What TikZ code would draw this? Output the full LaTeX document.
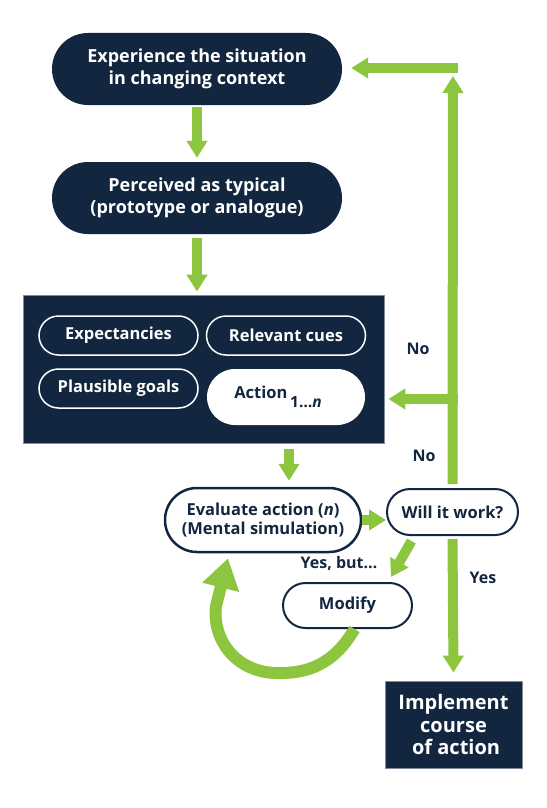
\documentclass[tikz,border=0pt]{standalone}
\usepackage{fontspec}
\setmainfont{Open Sans}
\usetikzlibrary{arrows.meta,shapes.misc,calc}
\definecolor{navy}{HTML}{13263F}
\definecolor{leaf}{HTML}{8CC63F}
\definecolor{edgegray}{HTML}{7F8B99}
\begin{document}
\begin{tikzpicture}[x=1pt,y=-1pt,
   font=\bfseries,
   darkpill/.style={rounded rectangle,fill=navy,text=white,inner sep=0pt,align=center,
      font=\bfseries\fontsize{18}{21.5}\selectfont},
   linepill/.style={rounded rectangle,draw=white,line width=1.5pt,fill=navy,text=white,
      inner sep=0pt,font=\bfseries\fontsize{16.5}{19}\selectfont},
   whitepill/.style={rounded rectangle,draw=navy,line width=2pt,fill=white,text=navy,
      inner sep=0pt,align=center,font=\bfseries\fontsize{16.5}{19.5}\selectfont},
   darkbox/.style={rectangle,fill=navy,draw=edgegray,line width=0.8pt,inner sep=0pt},
   tag/.style={text=navy,font=\bfseries\fontsize{16}{19}\selectfont},
   garrow/.style={draw=leaf,line width=10pt,-{Triangle[width=20pt,length=17pt]}},
   loop arrow/.style={draw=leaf,line width=12pt,-{Triangle[width=36pt,length=30pt]}}]

\useasboundingbox (0,0) rectangle (546,808);

\node[darkpill,minimum width=290pt,minimum height=72pt] (exp) at (197,69)
   {Experience the situation\\in changing context};
\node[darkpill,minimum width=290pt,minimum height=72pt] (perc) at (197,198)
   {Perceived as typical\\(prototype or analogue)};

\node[darkbox,minimum width=361pt,minimum height=148pt] (bigbox) at (203.5,369) {};
\node[linepill,minimum width=159pt,minimum height=39pt] (expect) at (118.5,335.5) {Expectancies};
\node[linepill,minimum width=159pt,minimum height=39pt] (cues) at (286,335.5) {Relevant cues};
\node[linepill,minimum width=159pt,minimum height=39pt] (goals) at (118.5,388.5) {Plausible goals};
\node[rounded rectangle,fill=white,text=navy,inner sep=0pt,minimum width=158pt,minimum height=56pt,
   font=\bfseries\fontsize{16.5}{19}\selectfont] (action) at (286,397)
   {Action\,\raisebox{-1.0ex}{\fontsize{15.5}{18}\selectfont 1…\textit{n}}\hspace*{16pt}};

\node[whitepill,line width=2.5pt,minimum width=196pt,minimum height=64pt] (eval) at (263,520)
   {Evaluate action (\textit{n})\\(Mental simulation)};
\node[whitepill,minimum width=131pt,minimum height=46pt] (will) at (452.5,512) {Will it work?};
\node[whitepill,minimum width=129pt,minimum height=45pt] (modify) at (347.5,605.5) {Modify};
\node[darkbox,text=white,align=center,minimum width=137pt,minimum height=87pt,
   font=\bfseries\fontsize{20}{22.5}\selectfont] (impl) at (453.5,724.5)
   {Implement\\course\\\ of action};

\node[tag] (no1) at (418,349) {No};
\node[tag] (no2) at (424,456) {No};
\node[tag] (yesbut) at (339,563) {Yes, but…};
\node[tag] (yes) at (483,578) {Yes};

\coordinate (corner) at (453,68);
\coordinate (branch) at (453,399);

\draw[garrow] ($(exp.south)+(0,2)$) -- ($(perc.north)+(0,-4)$);
\draw[garrow] ($(perc.south)+(0,4)$) -- ($(perc.south |- bigbox.north)+(0,-3)$);
\draw[garrow] ($(eval.north)+(26,-38)$) -- ($(eval.north)+(26,-6)$);
\draw[garrow] (eval.east) -- (eval.east -| will.west);
\draw[garrow] ($(will.north)+(0,-4)$) -- ($(corner)+(0,8)$);
\draw[garrow] ($(corner)+(5,0)$) -- ($(exp.east |- corner)+(9,0)$);
\draw[garrow] ($(branch)+(5,0)$) -- ($(bigbox.east |- branch)+(4,0)$);
\draw[garrow] ($(will.south)+(0,3)$) -- ($(impl.north)+(0,-8)$);
\draw[garrow] ($(will.south)+(-41,5)$) -- ($(modify.north)+(43.5,-5)$);
\draw[loop arrow] ($(modify.south)+(7,0)$) .. controls (334,664) and (308,674) .. (276,673)
   .. controls (236,672) and (212,640) .. (216,606) -- ($(eval.south)+(-35,5)$);

\end{tikzpicture}
\end{document}
